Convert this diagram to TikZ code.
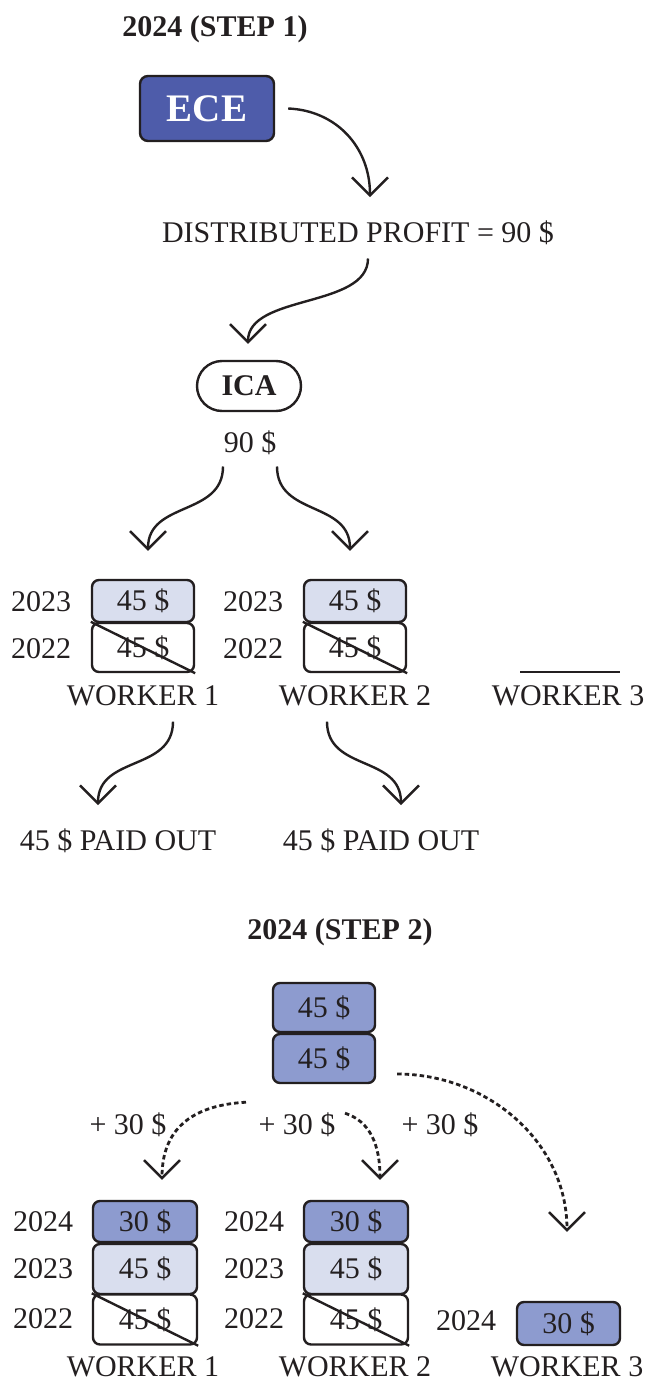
\documentclass[tikz,border=0pt]{standalone}
\usepackage{fontspec}
\setmainfont{Liberation Serif}
\usetikzlibrary{arrows.meta,calc}
\definecolor{ecec}{HTML}{4E5CAA}
\definecolor{dkc}{HTML}{8D9BCF}
\definecolor{ltc}{HTML}{D9DEEE}
\definecolor{linec}{HTML}{231F20}
\newcommand{\fsz}{\fontsize{30}{34}\selectfont}
\begin{document}
\begin{tikzpicture}[x=1pt,y=-1pt,
  lab/.style={font=\fsz, text=linec, inner sep=0pt, anchor=base},
  head/.style={font=\fsz\bfseries, text=linec, inner sep=0pt, anchor=base},
  box/.style={draw=linec, line width=2.4pt, rounded corners=7pt, minimum width=102pt, inner sep=0pt, font=\fsz, text=linec},
  dk/.style={box, fill=dkc},
  lt/.style={box, fill=ltc},
  wt/.style={box, fill=white},
  cross/.style={draw=linec, line width=2.4pt},
  arr/.style={draw=linec, line width=2.4pt, -{Straight Barb[length=18pt,width=36pt,line width=2.4pt]}},
  darr/.style={arr, dash pattern=on 4.5pt off 3pt, line width=2.8pt}
]
\useasboundingbox (0,0) rectangle (648,1381);

% ---------- STEP 1 ----------
\node[head] (h1) at (215,37) {2024 (STEP 1)};
\node[draw=linec, line width=2.4pt, fill=ecec, rounded corners=8pt, minimum width=134pt, minimum height=65pt, inner sep=0pt,
      text=white, font=\fontsize{39}{40}\selectfont\bfseries] (ece) at (207,108.5) {ECE};
\node[lab] (dist) at (358,242) {DISTRIBUTED PROFIT = 90 \$};
\node[draw=linec, line width=2.4pt, fill=white, rounded corners=25pt, minimum width=104pt, minimum height=50pt, inner sep=0pt,
      text=linec, font=\fsz\bfseries] (ica) at (249,386) {ICA};
\node[lab] (n90) at (250,452) {90 \$};

\draw[arr] ($(ece.east)+(13,0)$) .. controls +(48,2) and +(0,-50) .. ($(dist.north)+(12,-23)$);
\draw[arr] ($(dist.south)+(10,14)$) .. controls +(0,50) and +(0,-50) .. ($(ica.north)+(-1,-16)$);

% worker boxes step 1
\node[lt, minimum height=42pt] (w1a) at (143,601) {45 \$};
\node[wt, minimum height=49pt] (w1b) at (143,647.5) {45 \$};
\node[lt, minimum height=42pt] (w2a) at (355,601) {45 \$};
\node[wt, minimum height=49pt] (w2b) at (355,647.5) {45 \$};
\draw[cross] (w1b.north west) -- (w1b.south east);
\draw[cross] (w2b.north west) -- (w2b.south east);

\node[lab] (y1a) at (41,611) {2023};
\node[lab] (y1b) at (41,658) {2022};
\node[lab] (y2a) at (253,611) {2023};
\node[lab] (y2b) at (253,658) {2022};

\node[lab] (wk1) at (143,705) {WORKER 1};
\node[lab] (wk2) at (355,705) {WORKER 2};
\node[lab] (wk3) at (568,705) {WORKER 3};
\coordinate (w3l) at (520,672);
\coordinate (w3r) at (620,672);
\draw[linec, line width=2.4pt] (w3l) -- (w3r);

\draw[arr] ($(n90.south)+(-27,12)$) .. controls +(0,50) and +(0,-50) .. ($(w1a.north)+(5,-28)$);
\draw[arr] ($(n90.south)+(27,12)$) .. controls +(0,50) and +(0,-50) .. ($(w2a.north)+(-5,-28)$);

\node[lab] (paid1) at (118,850) {45 \$ PAID OUT};
\node[lab] (paid2) at (381,850) {45 \$ PAID OUT};
\draw[arr] ($(wk1.south)+(30,16)$) .. controls +(0,50) and +(0,-50) .. ($(paid1.north)+(-20,-23)$);
\draw[arr] ($(wk2.south)+(-28,16)$) .. controls +(0,50) and +(0,-50) .. ($(paid2.north)+(20,-23)$);

% ---------- STEP 2 ----------
\node[head] (h2) at (340,939) {2024 (STEP 2)};
\node[dk, minimum height=49pt] (s1) at (324,1007.5) {45 \$};
\node[dk, minimum height=49pt] (s2) at (324,1058.5) {45 \$};

\node[dk, minimum width=104pt, minimum height=41pt] (b1a) at (145,1221.5) {30 \$};
\node[lt, minimum width=104pt, minimum height=50pt] (b1b) at (145,1269) {45 \$};
\node[wt, minimum width=104pt, minimum height=50pt] (b1c) at (145,1319.5) {45 \$};
\node[dk, minimum width=104pt, minimum height=41pt] (b2a) at (356,1221.5) {30 \$};
\node[lt, minimum width=104pt, minimum height=50pt] (b2b) at (356,1269) {45 \$};
\node[wt, minimum width=104pt, minimum height=50pt] (b2c) at (356,1319.5) {45 \$};
\node[dk, minimum width=103pt, minimum height=43pt] (b3) at (568.5,1323.5) {30 \$};
\draw[cross] (b1c.north west) -- (b1c.south east);
\draw[cross] (b2c.north west) -- (b2c.south east);

\node[lab] (z1a) at (43,1231) {2024};
\node[lab] (z1b) at (43,1278) {2023};
\node[lab] (z1c) at (43,1328) {2022};
\node[lab] (z2a) at (254,1231) {2024};
\node[lab] (z2b) at (254,1278) {2023};
\node[lab] (z2c) at (254,1328) {2022};
\node[lab] (z3a) at (466,1330) {2024};

\node[lab] (bw1) at (143,1376) {WORKER 1};
\node[lab] (bw2) at (355,1376) {WORKER 2};
\node[lab] (bw3) at (567,1376) {WORKER 3};

\node[lab] (p1) at (128,1134) {+ 30 \$};
\node[lab] (p2) at (297,1134) {+ 30 \$};
\node[lab] (p3) at (440,1134) {+ 30 \$};

\draw[darr] ($(s2.south)+(-78,18)$) .. controls +(-55,3) and +(0,-50) .. ($(b1a.north)+(17,-20)$);
\draw[darr] ($(s2.south)+(21,29)$) .. controls +(25,8) and +(0,-35) .. ($(b2a.north)+(24,-20)$);
\draw[darr] ($(s2.east)+(21,15.5)$) .. controls +(90,0) and +(0,-90) .. ($(b3.north)+(-1.5,-69)$);
\end{tikzpicture}
\end{document}
